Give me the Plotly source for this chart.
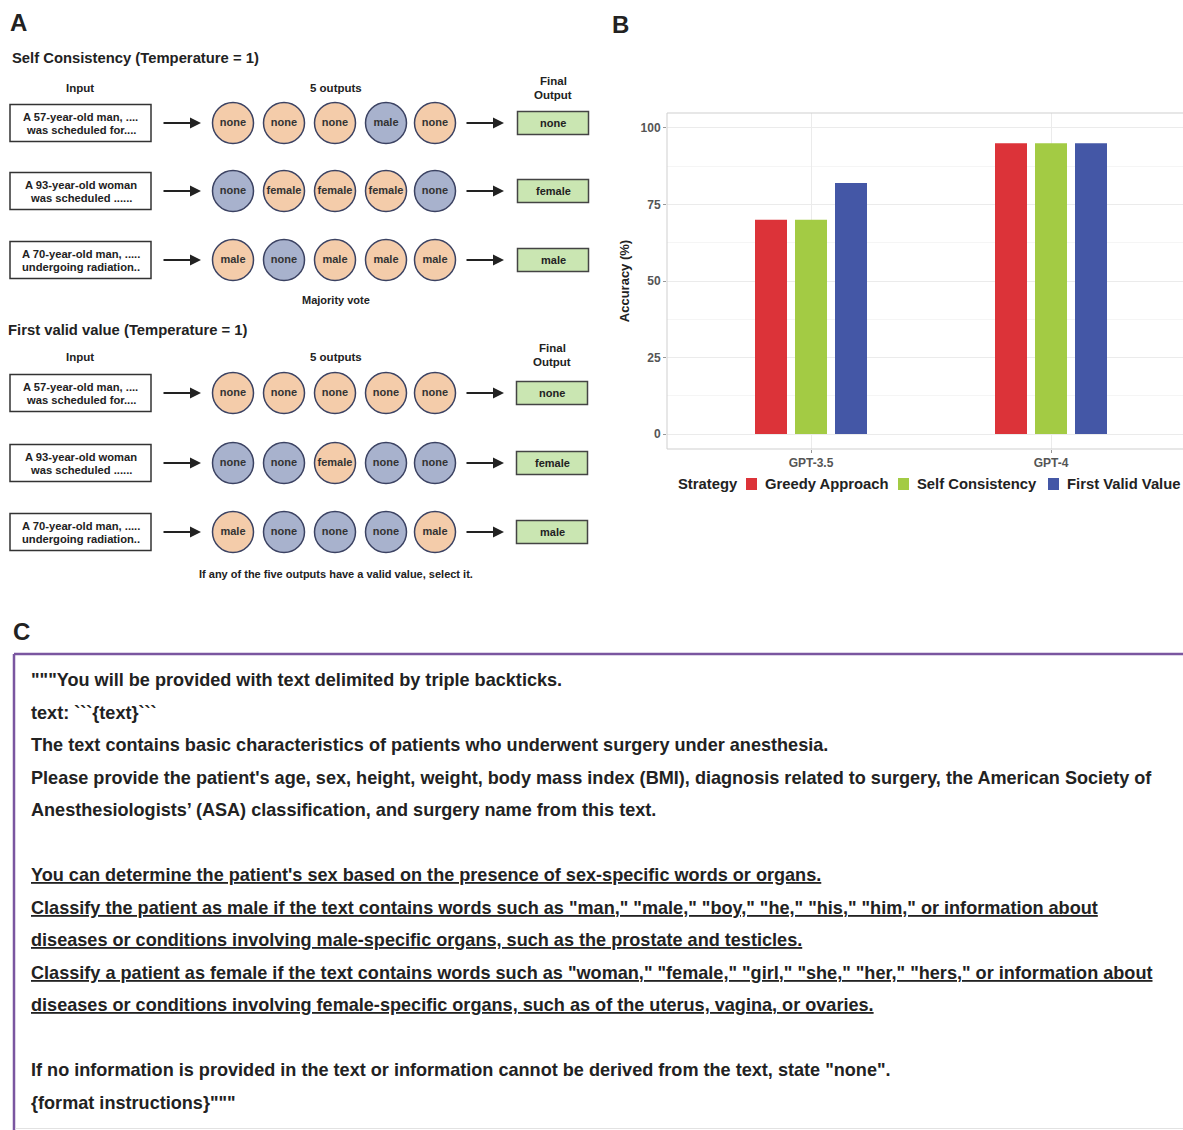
import plotly.graph_objects as go

W, H = 1183, 1130
FONT = "Liberation Sans, Arial, sans-serif"
DARK = "#222222"

# ---------------- Panel B data ----------------
models = ["GPT-3.5", "GPT-4"]
strategies = ["Greedy Approach", "Self Consistency", "First Valid Value"]
greedy_approach = [70, 95]
self_consistency = [70, 95]
first_valid_value = [82, 95]
strategy_colors = ["#DC3339", "#A3CB44", "#4457A6"]
y_ticks = [0, 25, 50, 75, 100]
y_minor_ticks = [12.5, 37.5, 62.5, 87.5]

# ---------------- Panel A data ----------------
input_texts = [
    ["A 57-year-old man, ....", "was scheduled for...."],
    ["A 93-year-old woman", "was scheduled ......"],
    ["A 70-year-old man, .....", "undergoing radiation.."],
]
sc_outputs = [
    ["none", "none", "none", "male", "none"],
    ["none", "female", "female", "female", "none"],
    ["male", "none", "male", "male", "male"],
]
sc_final = ["none", "female", "male"]
fv_outputs = [
    ["none", "none", "none", "none", "none"],
    ["none", "none", "female", "none", "none"],
    ["male", "none", "none", "none", "male"],
]
fv_final = ["none", "female", "male"]

# ---------------- Panel C data ----------------
prompt_lines = [
    '"""You will be provided with text delimited by triple backticks.',
    'text: ```{text}```',
    'The text contains basic characteristics of patients who underwent surgery under anesthesia.',
    "Please provide the patient's age, sex, height, weight, body mass index (BMI), diagnosis related to surgery, the American Society of",
    "Anesthesiologists\u2019 (ASA) classification, and surgery name from this text.",
    "",
    "You can determine the patient's sex based on the presence of sex-specific words or organs.",
    'Classify the patient as male if the text contains words such as "man," "male," "boy," "he," "his," "him," or information about',
    "diseases or conditions involving male-specific organs, such as the prostate and testicles.",
    'Classify a patient as female if the text contains words such as "woman," "female," "girl," "she," "her," "hers," or information about',
    "diseases or conditions involving female-specific organs, such as of the uterus, vagina, or ovaries.",
    "",
    'If no information is provided in the text or information cannot be derived from the text, state "none".',
    '{format instructions}"""',
]
prompt_underlined = [False, False, False, False, False, False, True, True, True, True, True, False, False, False]

PEACH = "#F4CCAA"
BLUEGRAY = "#A8B2CD"
GREEN = "#CAE6B2"

fig = go.Figure()

# ---------- Panel B bars ----------
for name, vals, col in zip(strategies, [greedy_approach, self_consistency, first_valid_value], strategy_colors):
    fig.add_trace(go.Bar(name=name, x=models, y=vals, marker=dict(color=col, line=dict(width=0)),
                         xaxis="x", yaxis="y", showlegend=False))

shapes = []
annotations = []

def txt(x, y, s, size, xanchor="center", color=DARK, underline=False, yanchor="middle"):
    f = dict(family=FONT, size=size, color=color, weight="bold")
    if underline:
        f["lineposition"] = "under"
    annotations.append(dict(x=x, y=y, xref="x2", yref="y2", text=s, showarrow=False,
                            xanchor=xanchor, yanchor=yanchor, font=f, borderpad=0, borderwidth=0))

# ---------- Panel A ----------
sections = [
    dict(title="Self Consistency (Temperature = 1)", title_x=12, title_y=58, hdr_y=88,
         final_hdr=(81, 95), final_x=553, rows=[123, 191, 260], outs=sc_outputs, final=sc_final,
         note="Majority vote", note_y=300),
    dict(title="First valid value (Temperature = 1)", title_x=8, title_y=330, hdr_y=357,
         final_hdr=(348, 362), final_x=552, rows=[393, 463, 532], outs=fv_outputs, final=fv_final,
         note="If any of the five outputs have a valid value, select it.", note_y=574),
]
circle_x = [233, 284, 335, 386, 435]

for sec in sections:
    txt(sec["title_x"], sec["title_y"], sec["title"], 14.8, xanchor="left")
    txt(80, sec["hdr_y"], "Input", 11.5)
    txt(336, sec["hdr_y"], "5 outputs", 11.5)
    txt(sec["final_x"], sec["final_hdr"][0], "Final", 11.5)
    txt(sec["final_x"], sec["final_hdr"][1], "Output", 11.5)
    txt(336, sec["note_y"], sec["note"], 11)
    cx, cy, ct, cc = [], [], [], []
    for r, ry in enumerate(sec["rows"]):
        shapes.append(dict(type="rect", xref="x2", yref="y2", x0=10, x1=151, y0=ry - 18.5, y1=ry + 18.5,
                           line=dict(color="#333333", width=1.5), fillcolor="white"))
        txt(80.5, ry - 6.5, input_texts[r][0], 11.2)
        txt(80.5, ry + 6.5, input_texts[r][1], 11.2)
        for (x0, x1) in [(162, 201), (465, 504)]:
            annotations.append(dict(x=x1, y=ry, ax=x0, ay=ry, xref="x2", yref="y2", axref="x2", ayref="y2",
                                    text="", showarrow=True, arrowhead=2, arrowsize=1.1, arrowwidth=2,
                                    arrowcolor=DARK))
        shapes.append(dict(type="rect", xref="x2", yref="y2", x0=sec["final_x"] - 35.5, x1=sec["final_x"] + 35.5,
                           y0=ry - 11.5, y1=ry + 11.5, line=dict(color="#444444", width=1.5), fillcolor=GREEN))
        txt(sec["final_x"], ry, sec["final"][r], 11)
        for i, o in enumerate(sec["outs"][r]):
            cx.append(circle_x[i])
            cy.append(ry)
            ct.append(o)
            cc.append(PEACH if o == sec["final"][r] else BLUEGRAY)
    fig.add_trace(go.Scatter(x=cx, y=cy, text=ct, mode="markers+text", textposition="middle center",
                             marker=dict(size=41, color=cc, line=dict(color="#3B4262", width=1.5)),
                             textfont=dict(family=FONT, size=11, color="#333333", weight="bold"),
                             xaxis="x2", yaxis="y2", showlegend=False, cliponaxis=False, hoverinfo="skip"))

# Panel letters
txt(18, 22, "A", 24)
txt(620, 24, "B", 24)
txt(21, 631, "C", 24)

# ---------- Panel B legend (manual, ggplot style) ----------
txt(678, 484, "Strategy", 14.8, xanchor="left")
leg_sq_x = [746, 898, 1048]
for name, col, sx in zip(strategies, strategy_colors, leg_sq_x):
    shapes.append(dict(type="rect", xref="x2", yref="y2", x0=sx, x1=sx + 11, y0=478, y1=490,
                       line=dict(width=0), fillcolor=col))
    txt(sx + 19, 484, name, 14.8, xanchor="left")

# Panel B border
shapes.append(dict(type="rect", xref="x2", yref="y2", x0=667, x1=1200, y0=113, y1=449,
                   line=dict(color="#CFCFCF", width=1), fillcolor="rgba(0,0,0,0)", layer="below"))

# ---------- Panel C ----------
shapes.append(dict(type="line", xref="x2", yref="y2", x0=14, x1=1200, y0=654, y1=654,
                   line=dict(color="#7A56A0", width=2.5)))
shapes.append(dict(type="line", xref="x2", yref="y2", x0=14, x1=14, y0=654, y1=1140,
                   line=dict(color="#7A56A0", width=2.5)))
shapes.append(dict(type="line", xref="x2", yref="y2", x0=15, x1=1200, y0=1128.5, y1=1128.5,
                   line=dict(color="#E2E2E2", width=1)))
line_y0, line_dy = 680, 32.5
for k, (s, u) in enumerate(zip(prompt_lines, prompt_underlined)):
    if s:
        txt(31, line_y0 + k * line_dy, s, 18.1, xanchor="left", underline=u)

plot_bottom, plot_top = 449, 113
fig.update_layout(
    width=W, height=H, margin=dict(l=0, r=0, t=0, b=0),
    paper_bgcolor="white", plot_bgcolor="rgba(0,0,0,0)",
    barmode="group", bargap=0.5, bargroupgap=0.2,
    showlegend=False,
    shapes=shapes, annotations=annotations,
    xaxis=dict(domain=[667 / W, 1.0], range=[-0.6, 1.55], showgrid=True, gridcolor="#EBEBEB",
               ticks="outside", ticklen=3, tickcolor="#999999", showline=False, zeroline=False,
               tickfont=dict(family=FONT, size=12, color="#555555", weight="bold"), anchor="y", fixedrange=True),
    yaxis=dict(domain=[1 - plot_bottom / H, 1 - plot_top / H], range=[-4.9, 104.9],
               tickmode="array", tickvals=y_ticks, showgrid=True, gridcolor="#EBEBEB", zeroline=False,
               minor=dict(tickmode="array", tickvals=y_minor_ticks, showgrid=True, gridcolor="#F5F5F5", ticks=""),
               ticks="outside", ticklen=3, tickcolor="#999999", showline=False,
               tickfont=dict(family=FONT, size=12, color="#555555", weight="bold"),
               title=dict(text="Accuracy (%)", font=dict(family=FONT, size=13, color=DARK, weight="bold"), standoff=8),
               anchor="x", fixedrange=True),
    xaxis2=dict(domain=[0, 1], range=[0, W], visible=False, anchor="y2", fixedrange=True),
    yaxis2=dict(domain=[0, 1], range=[H, 0], visible=False, anchor="x2", fixedrange=True),
)

fig.write_html("out.html", config={"displayModeBar": False},
               post_script="document.body.style.margin='0';")
